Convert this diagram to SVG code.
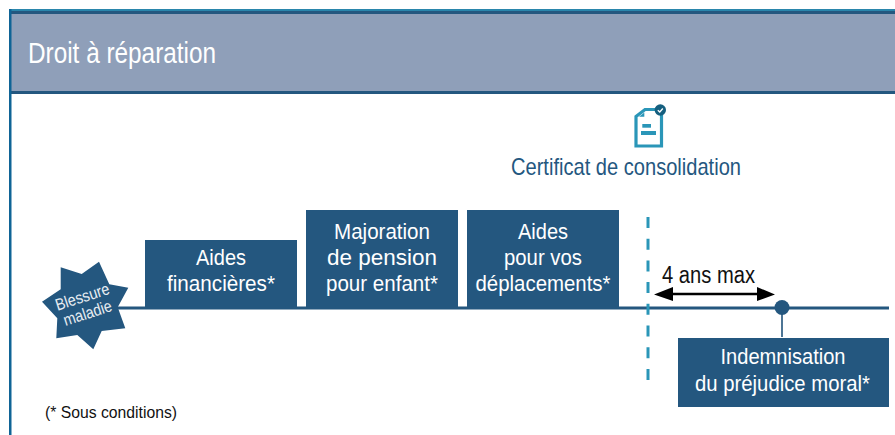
<svg xmlns="http://www.w3.org/2000/svg" width="895" height="435" viewBox="0 0 895 435">
<style>
text{font-family:"Liberation Sans",Arial,sans-serif}
.w{fill:#fff;font-size:22.500px;text-anchor:middle}
.box{fill:#24577f}
.k{fill:#111}
</style>
<rect width="895" height="435" fill="#fff"/>
<g id="header">
<rect x="9" y="9" width="886" height="3" fill="#2a86ac"/>
<rect x="9" y="12" width="886" height="82" fill="#8f9fb9"/>
<rect x="9" y="11" width="886" height="3" fill="#24577f"/>
<rect x="9" y="91" width="886" height="3" fill="#24577f"/>
<rect x="9" y="9" width="2.500" height="426" fill="#0f6496"/>
<text x="28" y="62.500" fill="#fff" font-size="29" textLength="188" lengthAdjust="spacingAndGlyphs">Droit à réparation</text>
</g>
<g id="connectors">
<line x1="110" y1="308" x2="889" y2="308" stroke="#24577f" stroke-width="3"/>
<line x1="648" y1="217" x2="648" y2="380" stroke="#2a96b8" stroke-width="3" stroke-dasharray="11 10.700"/>
<line x1="782" y1="308" x2="782" y2="337" stroke="#4d7595" stroke-width="2"/>
<line x1="668" y1="294" x2="762" y2="294" stroke="#000" stroke-width="2.500"/>
<path d="M654 294.500L673 287V301Z M775 294.500L757 287V301Z" fill="#000"/>
</g>
<g id="certificat">
<path d="M636 116.500L645 109.500H661.500V146H636Z" fill="#fff" stroke="#2a96b8" stroke-width="3.200"/>
<path d="M639 116.700H644.300V112.500Z" fill="#2a96b8"/>
<rect x="642.300" y="124" width="8.700" height="3.700" fill="#2a96b8"/>
<rect x="641" y="131" width="15" height="4" fill="#2a96b8"/>
<circle cx="660.300" cy="110" r="5.700" fill="#155f7f"/>
<path d="M657.800 110.200L659.800 112L662.800 108.500" fill="none" stroke="#fff" stroke-width="1.300"/>
<text x="511" y="175" fill="#24577f" font-size="24" textLength="230" lengthAdjust="spacingAndGlyphs">Certificat de consolidation</text>
</g>
<g id="blessure">
<polygon class="box" points="60.700,267.300 81.700,274 99,261.700 109.300,284.300 128.300,287.700 117.700,307.300 125.300,328.300 101.700,331 93.300,349.300 77.300,335 56.300,338.300 57.300,318.300 42,301.700 60.700,289.300"/>
<g transform="translate(85 305) rotate(-18)">
<text x="0" y="-3" fill="#e8edf2" font-size="16.500" text-anchor="middle" textLength="56" lengthAdjust="spacingAndGlyphs">Blessure</text>
<text x="0" y="14" fill="#e8edf2" font-size="16.500" text-anchor="middle" textLength="50" lengthAdjust="spacingAndGlyphs">maladie</text>
</g>
</g>
<g id="aides-financieres">
<rect class="box" x="145" y="240" width="152" height="68"/>
<text class="w" x="221" y="265" textLength="50" lengthAdjust="spacingAndGlyphs">Aides</text>
<text class="w" x="221" y="291" textLength="108" lengthAdjust="spacingAndGlyphs">financières*</text>
</g>
<g id="majoration">
<rect class="box" x="306" y="210" width="152" height="98"/>
<text class="w" x="382" y="239" textLength="96" lengthAdjust="spacingAndGlyphs">Majoration</text>
<text class="w" x="382" y="265" textLength="110" lengthAdjust="spacingAndGlyphs">de pension</text>
<text class="w" x="382" y="291" textLength="112" lengthAdjust="spacingAndGlyphs">pour enfant*</text>
</g>
<g id="aides-deplacements">
<rect class="box" x="467" y="210" width="152" height="98"/>
<text class="w" x="543" y="239" textLength="50" lengthAdjust="spacingAndGlyphs">Aides</text>
<text class="w" x="543" y="265" textLength="78" lengthAdjust="spacingAndGlyphs">pour vos</text>
<text class="w" x="543" y="291" textLength="135" lengthAdjust="spacingAndGlyphs">déplacements*</text>
</g>
<g id="delai">
<text class="k" x="662" y="283" font-size="23" textLength="93" lengthAdjust="spacingAndGlyphs">4 ans max</text>
<circle cx="782" cy="307.500" r="7.500" fill="#24577f"/>
</g>
<g id="indemnisation">
<rect class="box" x="678" y="338" width="211" height="69"/>
<text class="w" x="783" y="364" textLength="125" lengthAdjust="spacingAndGlyphs">Indemnisation</text>
<text class="w" x="782.500" y="391" textLength="175" lengthAdjust="spacingAndGlyphs">du préjudice moral*</text>
</g>
<text class="k" x="45" y="418" font-size="16" textLength="132" lengthAdjust="spacingAndGlyphs">(* Sous conditions)</text>
</svg>
